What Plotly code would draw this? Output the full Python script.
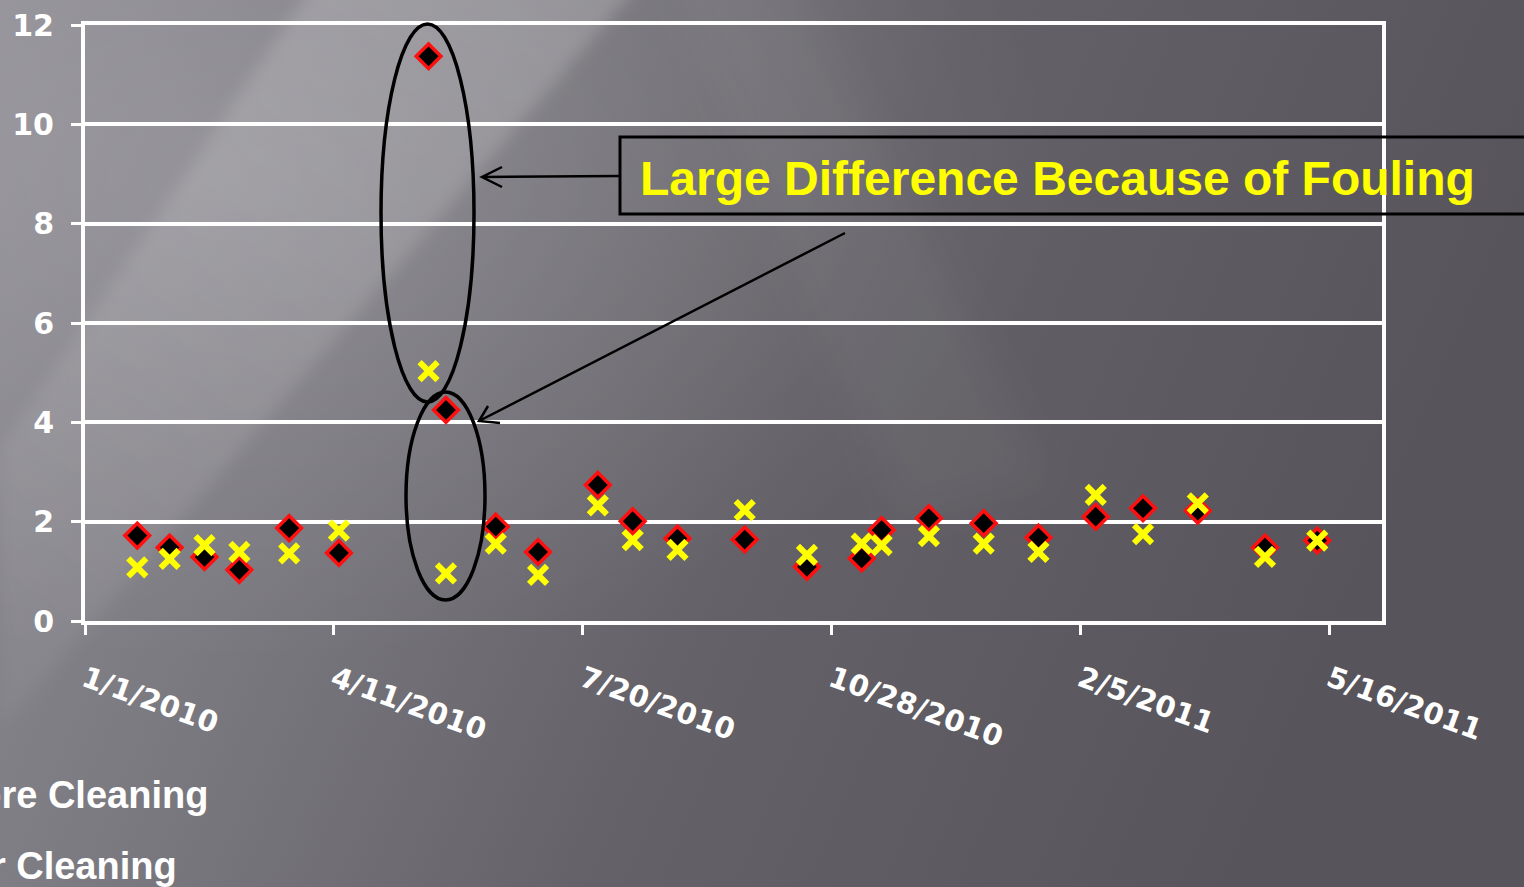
import base64
import plotly.graph_objects as go

# ---------------- data ----------------
dates = ["2010-01-22", "2010-02-04", "2010-02-18", "2010-03-04", "2010-03-24",
         "2010-04-13", "2010-05-19", "2010-05-26", "2010-06-15", "2010-07-02",
         "2010-07-26", "2010-08-09", "2010-08-27", "2010-09-23", "2010-10-18",
         "2010-11-09", "2010-11-17", "2010-12-06", "2010-12-28", "2011-01-19",
         "2011-02-11", "2011-03-02", "2011-03-24", "2011-04-20", "2011-05-11"]
before_cleaning = [1.72, 1.48, 1.29, 1.03, 1.87, 1.37, 11.37, 4.25, 1.90, 1.39,
                   2.74, 2.01, 1.66, 1.64, 1.09, 1.26, 1.83, 2.07, 1.97, 1.68,
                   2.10, 2.27, 2.22, 1.48, 1.62]
after_cleaning = [1.08, 1.25, 1.53, 1.39, 1.36, 1.82, 5.03, 0.96, 1.56, 0.93,
                  2.33, 1.63, 1.43, 2.23, 1.33, 1.56, 1.53, 1.71, 1.56, 1.39,
                  2.54, 1.75, 2.37, 1.29, 1.62]
x_tick_vals = ["2010-01-01", "2010-04-11", "2010-07-20", "2010-10-28", "2011-02-05", "2011-05-16"]
x_tick_text = ["1/1/2010", "4/11/2010", "7/20/2010", "10/28/2010", "2/5/2011", "5/16/2011"]
x_range = ["2010-01-01", "2011-06-06"]
y_range = [0, 12]
y_ticks = [0, 2, 4, 6, 8, 10, 12]
annotation_text = "Large Difference Because of Fouling"

# ---------------- geometry helpers ----------------
W, H = 1524, 887
ML, MR, MT, MB = 85, 142, 25, 266
PW, PH = W - ML - MR, H - MT - MB


def px(x):
    return (x - ML) / PW


def py(y):
    return (H - MB - y) / PH


# ---------------- background (gradient image) ----------------
svg = f"""<svg xmlns='http://www.w3.org/2000/svg' width='{W}' height='{H}' viewBox='0 0 {W} {H}' preserveAspectRatio='none'>
<defs>
<linearGradient id='g' x1='0' y1='0' x2='1' y2='0.25'>
<stop offset='0' stop-color='#8f8d94'/>
<stop offset='0.3' stop-color='#7b7980'/>
<stop offset='0.6' stop-color='#646268'/>
<stop offset='1' stop-color='#57555b'/>
</linearGradient>
<radialGradient id='r' cx='0.15' cy='0.2' r='0.55'>
<stop offset='0' stop-color='#ffffff' stop-opacity='0.14'/>
<stop offset='1' stop-color='#ffffff' stop-opacity='0'/>
</radialGradient>
<linearGradient id='b' x1='0.6' y1='0' x2='0' y2='1'>
<stop offset='0' stop-color='#ffffff' stop-opacity='0.18'/>
<stop offset='1' stop-color='#ffffff' stop-opacity='0.04'/>
</linearGradient>
<filter id='f' x='-20%' y='-20%' width='140%' height='140%'><feGaussianBlur stdDeviation='18'/></filter>
<filter id='f2' x='-20%' y='-20%' width='140%' height='140%'><feGaussianBlur stdDeviation='8'/></filter>
</defs>
<rect x='0' y='0' width='{W}' height='{H}' fill='url(#g)'/>
<rect x='0' y='0' width='{W}' height='{H}' fill='url(#r)'/>
<polygon points='330,-40 660,-40 0,730 0,450' fill='url(#b)' filter='url(#f2)'/>
<polygon points='660,-50 780,-50 1050,480 900,520' fill='#ffffff' fill-opacity='0.035' filter='url(#f)'/>
</svg>"""
bg_uri = "data:image/svg+xml;base64," + base64.b64encode(svg.encode()).decode()

# ---------------- figure ----------------
fig = go.Figure()
fig.add_trace(go.Scatter(
    x=dates, y=before_cleaning, mode="markers", name="Before Cleaning",
    legendgroup="b",
    marker=dict(symbol="diamond", size=19, color="black",
                line=dict(color="#ff1010", width=3.5)),
))
fig.add_trace(go.Scatter(
    x=dates, y=after_cleaning, mode="markers", name="After Cleaning",
    legendgroup="a",
    marker=dict(symbol="x-thin", size=18, color="#ffff00",
                line=dict(color="#ffff00", width=6)),
))

tick_font = dict(family="DejaVu Sans", size=29, color="white", weight="bold")

shapes = []
# ellipses
shapes.append(dict(type="circle", xref="paper", yref="paper",
                   x0=px(381), x1=px(474), y0=py(402), y1=py(24),
                   line=dict(color="black", width=3.5)))
shapes.append(dict(type="circle", xref="paper", yref="paper",
                   x0=px(406), x1=px(485), y0=py(600), y1=py(392),
                   line=dict(color="black", width=3.5)))
# box
shapes.append(dict(type="rect", xref="paper", yref="paper",
                   x0=px(620), x1=px(1540), y0=py(214), y1=py(137),
                   line=dict(color="black", width=3)))


def arrow_path(x0, y0, x1, y1, a1, a2):
    return (f"M {px(x0)},{py(y0)} L {px(x1)},{py(y1)} "
            f"M {px(a1[0])},{py(a1[1])} L {px(x1)},{py(y1)} L {px(a2[0])},{py(a2[1])}")


shapes.append(dict(type="path", xref="paper", yref="paper",
                   path=arrow_path(620, 176, 482, 177, (502, 167), (502, 187)),
                   line=dict(color="black", width=2.5)))
shapes.append(dict(type="path", xref="paper", yref="paper",
                   path=arrow_path(845, 233, 479, 421, (488, 406), (500, 423)),
                   line=dict(color="black", width=2.5)))

fig.update_layout(
    width=W, height=H,
    margin=dict(l=ML, r=MR, t=MT, b=MB, autoexpand=False),
    paper_bgcolor="#6e6c73",
    plot_bgcolor="rgba(0,0,0,0)",
    images=[dict(source=bg_uri, xref="paper", yref="paper",
                 x=px(0), y=py(0), sizex=W / PW, sizey=H / PH,
                 xanchor="left", yanchor="top", sizing="stretch", layer="below")],
    showlegend=True,
    legend=dict(x=px(-123), y=py(762), xanchor="left", yanchor="top",
                bgcolor="rgba(0,0,0,0)", tracegroupgap=19,
                font=dict(family="Liberation Sans", size=38, color="white", weight="bold")),
    shapes=shapes,
    annotations=[dict(xref="paper", yref="paper", x=px(638), y=py(178),
                      xanchor="left", yanchor="middle", showarrow=False,
                      text=annotation_text,
                      font=dict(family="Liberation Sans", size=48, color="#ffff00", weight="bold"))],
    xaxis=dict(type="date", range=x_range, tickvals=x_tick_vals, ticktext=x_tick_text,
               tickangle=20, tickfont=tick_font, showgrid=False, zeroline=False,
               showline=True, mirror=True, linecolor="white", linewidth=4,
               ticks="outside", ticklen=10, tickwidth=3, tickcolor="white",
               ticklabelstandoff=16),
    yaxis=dict(range=y_range, tickvals=y_ticks,
               tickfont=dict(family="DejaVu Sans", size=30, color="white", weight="bold"),
               showgrid=True, gridcolor="white", gridwidth=4, zeroline=False,
               showline=True, mirror=True, linecolor="white", linewidth=4,
               ticks="outside", ticklen=10, tickwidth=3, tickcolor="white",
               ticklabelstandoff=11),
)

fig.write_html("out.html", config={"displayModeBar": False},
               post_script="document.body.style.margin='0';document.body.style.overflow='hidden';")
